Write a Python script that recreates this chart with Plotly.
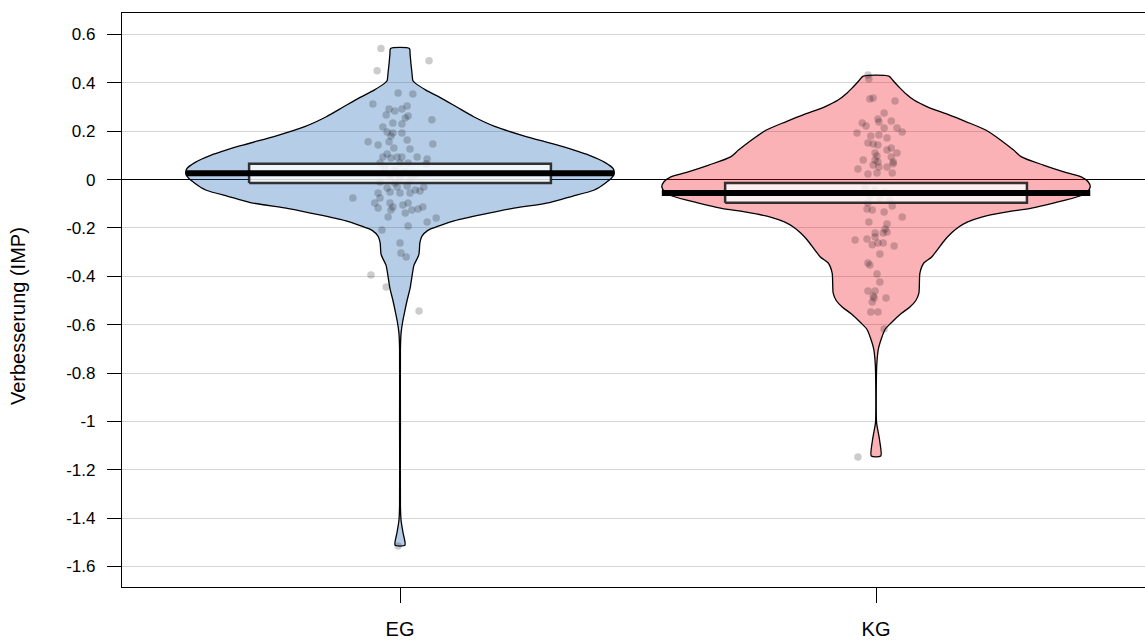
import plotly.graph_objects as go

# ---------------- data ----------------
groups = ["EG", "KG"]
group_pos = [1, 2]

eg_values = [0.542, 0.491, 0.450, 0.358, 0.354, 0.313, 0.304, 0.292, 0.292, 0.284,
             0.267, 0.263, 0.255, 0.247, 0.234, 0.230, 0.218, 0.197, 0.193, 0.193,
             0.180, 0.164, 0.156, 0.143, 0.156, 0.147, 0.131, 0.127, 0.106, 0.093,
             0.089, 0.093, 0.093, 0.093, 0.085, 0.069, 0.069, 0.069, 0.065, 0.048,
             0.040, 0.031, 0.019, 0.015, 0.007, -0.002, -0.010, -0.014, -0.035, -0.031,
             -0.026, -0.043, -0.047, -0.031, -0.055, -0.051, -0.055, -0.055, -0.076, -0.076,
             -0.097, -0.097, -0.113, -0.105, -0.097, -0.117, -0.126, -0.138, -0.126, -0.122,
             -0.113, -0.155, -0.159, -0.175, -0.192, -0.208, -0.262, -0.304, -0.320, -0.395,
             -0.444, -0.543, -1.515]
eg_jitter = [-0.040, 0.061, -0.048, -0.004, 0.027, -0.057, 0.015, -0.023, 0.004, -0.011,
             -0.029, 0.017, 0.011, 0.067, -0.015, 0.004, -0.036, -0.027, -0.015, 0.004,
             -0.019, 0.015, -0.067, -0.046, -0.023, 0.069, -0.013, 0.021, -0.027, -0.036,
             -0.019, -0.006, 0.004, 0.036, 0.057, -0.042, 0.000, 0.017, 0.055, -0.032,
             -0.011, 0.011, 0.032, -0.021, 0.000, 0.021, -0.042, -0.011, -0.027, -0.006,
             0.015, 0.032, 0.042, 0.050, -0.046, -0.021, 0.000, 0.021, -0.099, -0.042,
             -0.053, -0.021, -0.015, 0.006, 0.017, -0.046, -0.019, 0.011, 0.025, 0.038,
             0.048, -0.025, 0.076, 0.057, 0.017, -0.038, 0.000, 0.002, 0.013, -0.061,
             -0.029, 0.040, -0.004]

kg_values = [0.433, 0.416, 0.333, 0.337, 0.325, 0.275, 0.251, 0.238, 0.234, 0.222,
             0.242, 0.213, 0.213, 0.197, 0.193, 0.180, 0.184, 0.172, 0.151, 0.147,
             0.143, 0.131, 0.122, 0.110, 0.098, 0.110, 0.093, 0.081, 0.081, 0.073,
             0.073, 0.044, 0.060, 0.052, 0.052, 0.065, 0.023, 0.027, 0.027, -0.035,
             -0.043, -0.051, -0.068, -0.076, -0.084, -0.097, -0.122, -0.126, -0.134, -0.109,
             -0.155, -0.175, -0.184, -0.204, -0.221, -0.221, -0.217, -0.250, -0.246, -0.237,
             -0.270, -0.262, -0.262, -0.275, -0.308, -0.345, -0.353, -0.390, -0.424, -0.461,
             -0.461, -0.481, -0.490, -0.490, -0.506, -0.548, -0.548, -0.618, -1.147]
kg_jitter = [-0.017, -0.015, -0.013, -0.006, 0.040, 0.017, 0.004, 0.006, -0.029, -0.021,
             0.032, 0.017, 0.044, 0.055, -0.040, -0.011, 0.006, 0.023, -0.017, -0.006,
             0.004, 0.032, 0.023, -0.002, 0.002, 0.044, 0.032, -0.027, -0.002, 0.004,
             0.036, -0.038, -0.006, 0.006, 0.023, 0.036, -0.017, 0.002, 0.034, -0.023,
             -0.002, 0.019, -0.013, 0.008, 0.029, -0.017, -0.019, -0.008, 0.017, 0.034,
             0.055, -0.015, 0.023, 0.019, -0.002, 0.015, 0.023, -0.044, -0.019, -0.002,
             -0.008, 0.004, 0.015, 0.038, 0.008, -0.017, -0.013, 0.002, 0.008, -0.017,
             -0.002, -0.006, -0.004, 0.021, -0.008, -0.011, 0.004, 0.017, -0.038]

# relative density profiles (1 = widest point of the bean)
eg_dens_y = [0.542, 0.52, 0.48, 0.44, 0.41, 0.40, 0.37, 0.34, 0.30, 0.26, 0.22, 0.18,
             0.14, 0.10, 0.07, 0.045, 0.025, 0.01, -0.015, -0.043, -0.07, -0.095,
             -0.12, -0.145, -0.17, -0.19, -0.21, -0.235, -0.26, -0.31, -0.355, -0.40,
             -0.45, -0.50, -0.55, -0.59, -0.635, -0.70, -1.00, -1.35, -1.41, -1.46, -1.512]
eg_dens = [0.044, 0.047, 0.051, 0.056, 0.060, 0.070, 0.121, 0.186, 0.265, 0.344, 0.442, 0.581,
           0.744, 0.884, 0.958, 0.995, 1.000, 0.991, 0.958, 0.907, 0.800, 0.698,
           0.521, 0.381, 0.256, 0.186, 0.130, 0.102, 0.093, 0.088, 0.065, 0.056,
           0.047, 0.033, 0.021, 0.012, 0.005, 0.002, 0.002, 0.002, 0.005, 0.014, 0.023]

kg_dens_y = [0.428, 0.41, 0.383, 0.358, 0.329, 0.30, 0.27, 0.24, 0.205, 0.164, 0.122,
             0.094, 0.06, 0.03, 0.011, -0.01, -0.03, -0.05, -0.07, -0.095, -0.118,
             -0.135, -0.155, -0.175, -0.196, -0.22, -0.25, -0.32, -0.345, -0.386, -0.47,
             -0.50, -0.527, -0.555, -0.593, -0.62, -0.65, -0.70, -0.745, -0.80, -1.00,
             -1.02, -1.08, -1.143]
kg_dens = [0.060, 0.079, 0.107, 0.135, 0.177, 0.242, 0.335, 0.419, 0.512, 0.581, 0.642,
           0.679, 0.781, 0.884, 0.958, 0.991, 1.000, 0.986, 0.944, 0.837, 0.726,
           0.605, 0.493, 0.428, 0.386, 0.353, 0.321, 0.260, 0.223, 0.205, 0.200,
           0.186, 0.158, 0.116, 0.070, 0.042, 0.028, 0.011, 0.005, 0.002, 0.002,
           0.005, 0.017, 0.022]

means = [0.026, -0.055]
ci_low = [-0.014, -0.096]
ci_high = [0.065, -0.014]

y_tick_vals = [0.6, 0.4, 0.2, 0, -0.2, -0.4, -0.6, -0.8, -1, -1.2, -1.4, -1.6]
y_tick_text = ["0.6", "0.4", "0.2", "0", "-0.2", "-0.4", "-0.6", "-0.8", "-1", "-1.2", "-1.4", "-1.6"]
y_title = "Verbesserung (IMP)"

# ---------------- styling ----------------
BEAN_HALF = 0.45
BOX_HALF = 0.317
bean_fill = ["rgba(12,91,176,0.3)", "rgba(238,0,17,0.3)"]
FONT = "Liberation Sans, Arial, Helvetica, sans-serif"

fig = go.Figure()

profiles = [(eg_dens_y, eg_dens), (kg_dens_y, kg_dens)]
points = [(eg_values, eg_jitter), (kg_values, kg_jitter)]

for i, c in enumerate(group_pos):
    ys, ds = profiles[i]
    left_x = [c - d * BEAN_HALF for d in ds]
    right_x = [c + d * BEAN_HALF for d in ds][::-1]
    xs = left_x + right_x + [left_x[0]]
    yy = list(ys) + list(ys)[::-1] + [ys[0]]
    fig.add_trace(go.Scatter(x=xs, y=yy, mode="lines", fill="toself",
                             fillcolor=bean_fill[i],
                             line=dict(color="black", width=1.3, shape="spline", smoothing=0.7),
                             hoverinfo="skip", showlegend=False))

for i, c in enumerate(group_pos):
    vals, jit = points[i]
    fig.add_trace(go.Scatter(x=[c + j for j in jit], y=vals, mode="markers",
                             marker=dict(size=7.5, color="rgba(0,0,0,0.2)", line=dict(width=0)),
                             hoverinfo="skip", showlegend=False))

for i, c in enumerate(group_pos):
    bx = [c - BOX_HALF, c + BOX_HALF, c + BOX_HALF, c - BOX_HALF, c - BOX_HALF]
    by = [ci_low[i], ci_low[i], ci_high[i], ci_high[i], ci_low[i]]
    fig.add_trace(go.Scatter(x=bx, y=by, mode="lines", fill="toself",
                             fillcolor="rgba(255,255,255,0.8)",
                             line=dict(color="rgba(30,30,30,0.9)", width=2.5),
                             hoverinfo="skip", showlegend=False))
    fig.add_trace(go.Scatter(x=[c - BEAN_HALF, c + BEAN_HALF], y=[means[i], means[i]],
                             mode="lines", line=dict(color="black", width=6),
                             hoverinfo="skip", showlegend=False))

fig.update_layout(
    width=1145, height=641,
    margin=dict(l=122, r=0, t=13, b=54),
    paper_bgcolor="white", plot_bgcolor="white",
    font=dict(family=FONT, size=17, color="black"),
    showlegend=False,
    xaxis=dict(range=[0.416, 2.565], tickvals=group_pos, ticktext=groups,
               showgrid=False, zeroline=False, showline=True, linecolor="black",
               linewidth=1.2, mirror=True, ticks="outside", ticklen=15, tickcolor="black",
               tickwidth=1, ticklabelstandoff=9, tickfont=dict(size=20)),
    yaxis=dict(range=[-1.685, 0.689], tickvals=y_tick_vals, ticktext=y_tick_text,
               showgrid=True, gridcolor="#d4d4d4", gridwidth=1,
               zeroline=True, zerolinecolor="black", zerolinewidth=1,
               showline=True, linecolor="black", linewidth=1.2, mirror=False,
               ticks="outside", ticklen=14, tickcolor="black", tickwidth=1,
               ticklabelstandoff=8, tickfont=dict(size=17)),
    annotations=[dict(text=y_title, textangle=-90, xref="paper", yref="paper",
                      x=-0.1017, y=0.472, xanchor="center", yanchor="middle",
                      showarrow=False, font=dict(size=20))],
)

fig.write_html("out.html",
               config={"displayModeBar": False},
               post_script="document.body.style.margin='0';document.body.style.overflow='hidden';")
